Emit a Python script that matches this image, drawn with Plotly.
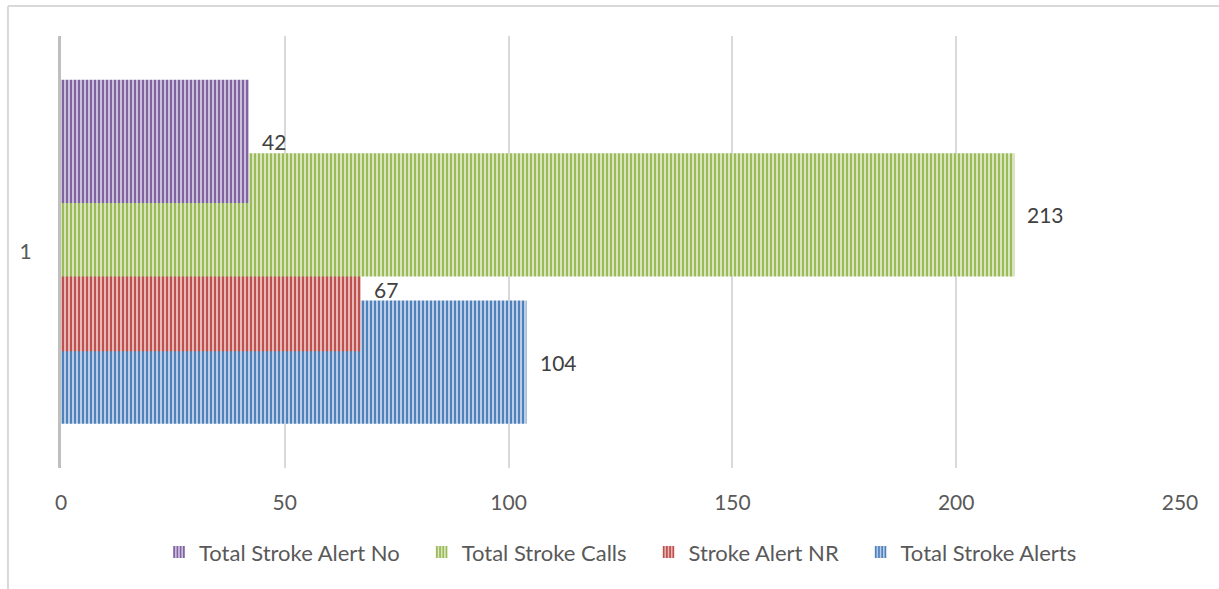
import plotly.graph_objects as go

category = ["1"]
series_names = ["Total Stroke Alerts", "Stroke Alert NR", "Total Stroke Calls", "Total Stroke Alert No"]
series_values = [104, 67, 213, 42]
fg_colors = ["#4F81BD", "#C0504D", "#9BBB59", "#8064A2"]
bg_colors = ["#D6E1F0", "#F0D4D3", "#E6EFD6", "#DED6EA"]
x_ticks = [0, 50, 100, 150, 200, 250]

FONT = "Lato, 'Open Sans', sans-serif"
bar_width = 0.285
centers = [-0.255, -0.087, 0.086, 0.256]

fig = go.Figure()
for i, (name, val, fg, bg, c) in enumerate(zip(series_names, series_values, fg_colors, bg_colors, centers)):
    pad = "\u00a0" * 3 if i > 0 else ""
    fig.add_trace(go.Bar(
        y=category, x=[val], name=name + pad, orientation="h",
        width=bar_width, offset=c - bar_width / 2,
        marker=dict(color=fg, line=dict(width=0),
                    pattern=dict(shape="|", fgcolor=fg, bgcolor=bg, size=4, solidity=0.6,
                                 fillmode="replace", fgopacity=1)),
        hoverinfo="x+name",
    ))
    fig.add_annotation(x=val, y=c, xref="x", yref="y", text=str(val), showarrow=False,
                       xanchor="left", xshift=11, yshift=0,
                       font=dict(family=FONT, size=21, color="#404040"))

# outer frame lines (chart border)
fig.add_shape(type="line", xref="paper", yref="paper", x0=-0.0474, x1=1.05, y0=1.0694, y1=1.0694,
              line=dict(color="#D9D9D9", width=2))
fig.add_shape(type="line", xref="paper", yref="paper", x0=-0.0474, x1=-0.0474, y0=1.0694, y1=-0.28,
              line=dict(color="#D9D9D9", width=2))

fig.update_layout(
    width=1219, height=589,
    margin=dict(l=61, r=39, t=36, b=121),
    barmode="overlay",
    paper_bgcolor="white", plot_bgcolor="white",
    font=dict(family=FONT, size=21, color="#595959"),
    xaxis=dict(range=[0, 250], tickvals=x_ticks, showgrid=True, gridcolor="#D9D9D9", gridwidth=2,
               zeroline=False, showline=False, ticks="", ticklabelstandoff=20,
               tickfont=dict(family=FONT, size=21, color="#595959")),
    yaxis=dict(type="category", range=[-0.5, 0.5], showgrid=False, showline=True,
               linecolor="#BFBFBF", linewidth=3, ticks="", ticklabelstandoff=22,
               tickfont=dict(family=FONT, size=21, color="#595959")),
    legend=dict(orientation="h", x=0.5, xanchor="center", y=-0.195, yanchor="middle",
                traceorder="reversed", font=dict(family=FONT, size=22, color="#595959"),
                itemwidth=30),
    showlegend=True,
)

fig.write_html("out.html", config={"displayModeBar": False},
               post_script="document.body.style.margin='0';document.body.style.overflow='hidden';")
